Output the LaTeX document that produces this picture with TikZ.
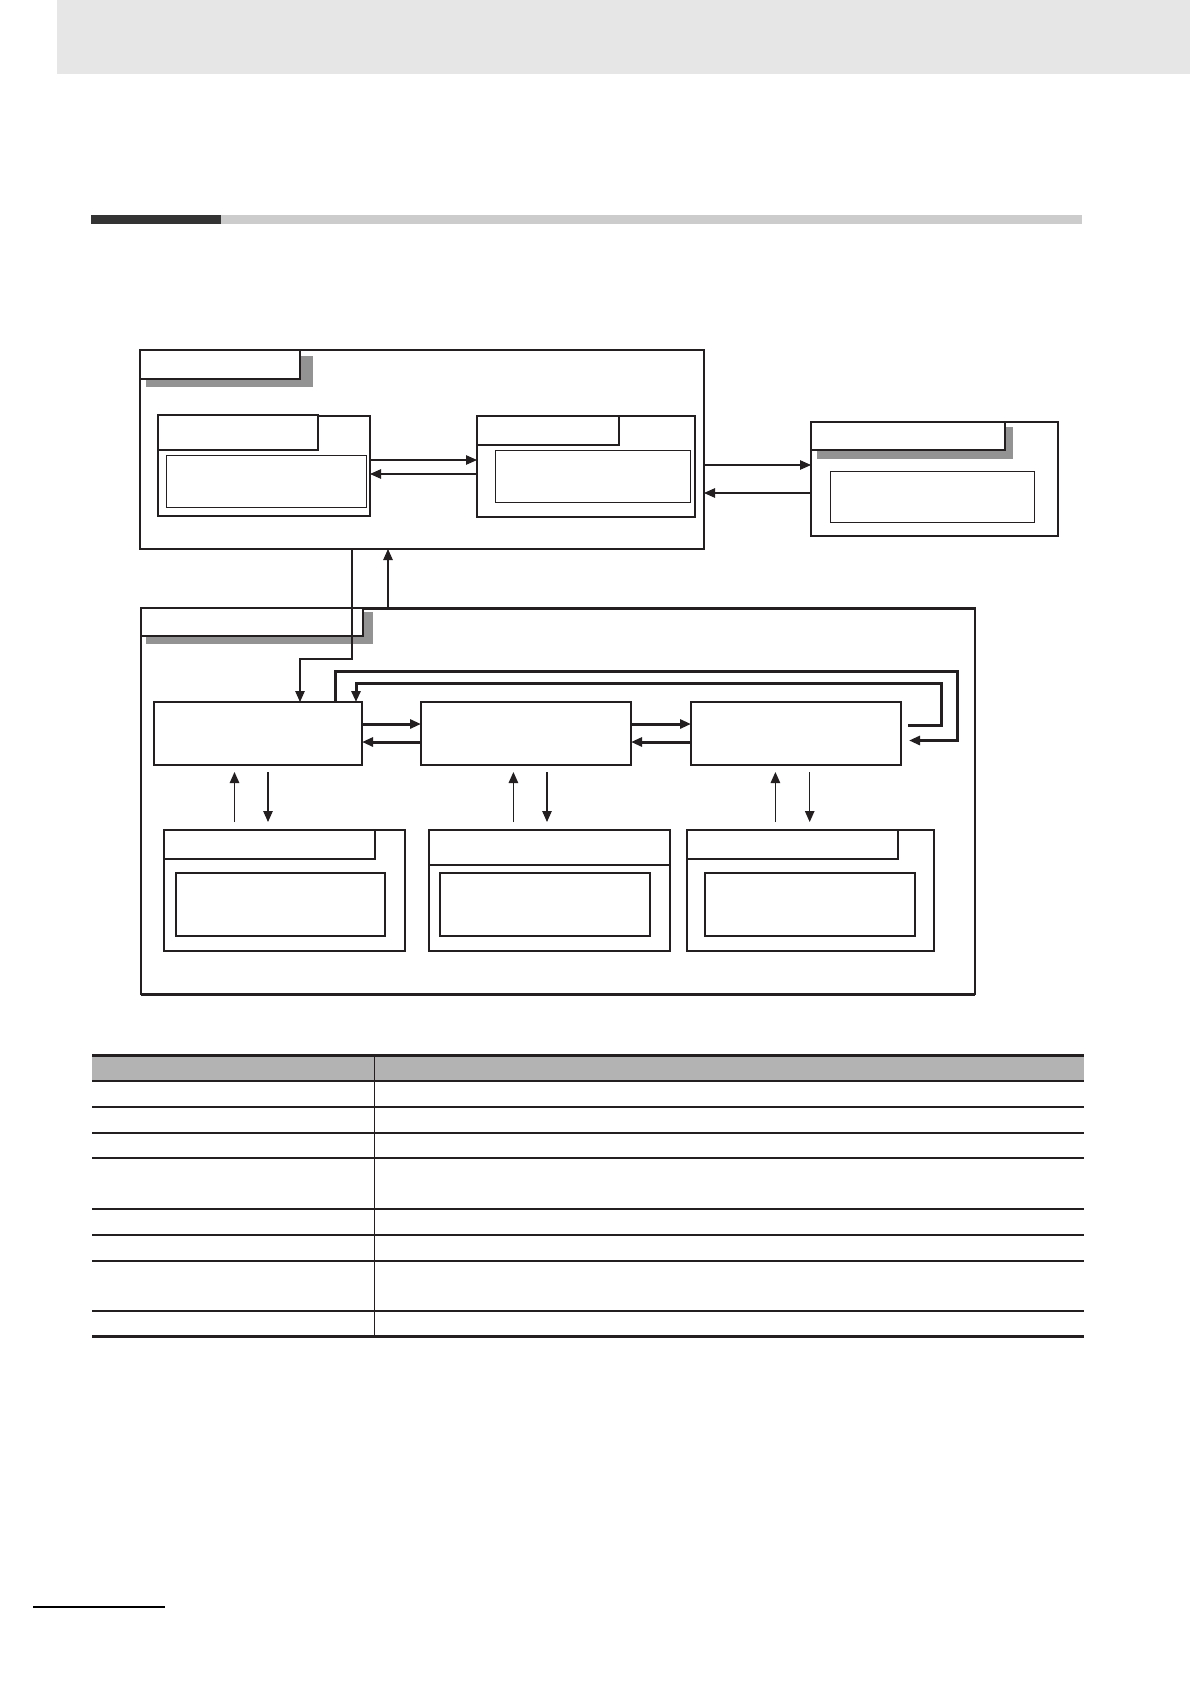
\documentclass[tikz,border=0pt]{standalone}
\usetikzlibrary{arrows.meta,calc}
\definecolor{lc}{HTML}{231F20}
\definecolor{shd}{HTML}{939393}
\definecolor{band}{HTML}{E6E6E6}
\definecolor{bardark}{HTML}{333333}
\definecolor{barlight}{HTML}{CCCCCC}
\definecolor{thead}{HTML}{B3B3B3}
\tikzset{
 bx/.style={draw=lc,inner sep=0pt,outer sep=0pt,anchor=north west,fill=white,line width=#1},
 bx/.default=2pt,
 sz/.style n args={2}{minimum width=#1pt,minimum height=#2pt},
 shadowbox/.style={fill=shd,draw=none,inner sep=0pt,outer sep=0pt,anchor=north west},
 thinarrow/.style={draw=lc,line width=1.1pt,-{Triangle[length=11pt,width=9.5pt]}},
 thickarrow/.style={draw=lc,line width=3pt,-{Triangle[length=11pt,width=9pt]}},
}
\begin{document}
\begin{tikzpicture}[x=1pt,y=-1pt]
\useasboundingbox (0,0) rectangle (1190,1684);
% page decoration
\fill[band] (57,0) rectangle (1190,73.5);
\fill[bardark] (91,215) rectangle (221,224);
\fill[barlight] (221,215) rectangle (1082,224);

% top system
\node[bx,sz={564}{199}] (T) at (140,350) {};
\node[shadowbox,sz={167}{31}] (Tsh) at (146,356) {};
\node[bx,sz={160}{29}] (Ttab) at (140,350) {};

\node[bx,sz={212}{100}] (A) at (158,416) {};
\node[bx=1.8pt,sz={160}{35}] (Atab) at (158,415) {};
\node[bx=1pt,sz={200}{52}] (Ain) at (166,455) {};

\node[bx,sz={218}{101}] (B) at (477,416) {};
\node[bx=1.8pt,sz={142}{29}] (Btab) at (477,416) {};
\node[bx=1pt,sz={195}{52}] (Bin) at (495,450) {};

\node[bx,sz={247}{114}] (C) at (811,422) {};
\node[shadowbox,sz={196}{32}] (Csh) at (817,427) {};
\node[bx,sz={194}{28}] (Ctab) at (811,422) {};
\node[bx=1pt,sz={204}{51}] (Cin) at (830,471) {};

\coordinate (yab1) at (0,460);
\coordinate (yab2) at (0,474);
\draw[thinarrow] (A.east |- yab1) -- (B.west |- yab1);
\draw[thinarrow] (B.west |- yab2) -- (A.east |- yab2);
\coordinate (ytc1) at (0,465);
\coordinate (ytc2) at (0,493);
\draw[thinarrow] (T.east |- ytc1) -- (C.west |- ytc1);
\draw[thinarrow] (C.west |- ytc2) -- (T.east |- ytc2);

% main system
\node[bx=1.2pt,sz={834}{386}] (M) at (141,608) {};
\draw[lc,line width=3pt] (M.north west) -- (M.north east);
\draw[lc,line width=3pt] (M.south west) -- (M.south east);
\node[shadowbox,sz={227}{32}] (Msh) at (146,612) {};
\node[bx,sz={222}{28}] (Mtab) at (141,608) {};

\node[bx=1.2pt,sz={208}{63}] (D) at (154,702) {};
\node[bx=1.2pt,sz={210}{63}] (E) at (421,702) {};
\node[bx=1.2pt,sz={210}{63}] (F) at (691,702) {};

\coordinate (p1) at (352,659);
\coordinate (p2) at (300,659);
\draw[thinarrow] (T.south -| p1) -- (p1) -- (p2) -- (D.north -| p2);
\coordinate (q1) at (388,0);
\draw[thinarrow] (M.north -| q1) -- (T.south -| q1);

\coordinate (yr) at (0,724);
\coordinate (yl) at (0,742);
\draw[thickarrow] (D.east |- yr) -- (E.west |- yr);
\draw[thickarrow] (E.west |- yl) -- (D.east |- yl);
\draw[thickarrow] (E.east |- yr) -- (F.west |- yr);
\draw[thickarrow] (F.west |- yl) -- (E.east |- yl);

\coordinate (o1) at (335,671.5);
\coordinate (o2) at (957,671.5);
\coordinate (o3) at (957,740.5);
\coordinate (o4) at (909,740.5);
\draw[thickarrow] (D.north -| o1) -- (o1) -- (o2) -- (o3) -- (o4);
\coordinate (i0) at (908,725);
\coordinate (i1) at (941,725);
\coordinate (i2) at (941,683);
\coordinate (i3) at (356,683);
\draw[thickarrow] (i0) -- (i1) -- (i2) -- (i3) -- (D.north -| i3);

\node[bx=2.2pt,sz={241}{121}] (G) at (164,830) {};
\node[bx=1.5pt,sz={211}{29}] (Gtab) at (164,830) {};
\node[bx=1.2pt,sz={209}{63}] (Gin) at (176,873) {};

\node[bx=2.2pt,sz={241}{121}] (H) at (429,830) {};
\node[bx=1.2pt,sz={241}{35}] (Htab) at (429,830) {};
\node[bx=1.2pt,sz={210}{63}] (Hin) at (440,873) {};

\node[bx=2.2pt,sz={247}{121}] (I) at (687,830) {};
\node[bx=1.5pt,sz={211}{29}] (Itab) at (687,830) {};
\node[bx=1.2pt,sz={210}{63}] (Iin) at (705,873) {};

\coordinate (g1) at (234.5,0);
\coordinate (g2) at (268,0);
\coordinate (h1) at (513.4,0);
\coordinate (h2) at (547,0);
\coordinate (k1) at (775.4,0);
\coordinate (k2) at (809.7,0);
\draw[thinarrow,shorten <=8pt,shorten >=7pt] (G.north -| g1) -- (D.south -| g1);
\draw[thinarrow,shorten <=7pt,shorten >=8pt] (D.south -| g2) -- (G.north -| g2);
\draw[thinarrow,shorten <=8pt,shorten >=7pt] (H.north -| h1) -- (E.south -| h1);
\draw[thinarrow,shorten <=7pt,shorten >=8pt] (E.south -| h2) -- (H.north -| h2);
\draw[thinarrow,shorten <=8pt,shorten >=7pt] (I.north -| k1) -- (F.south -| k1);
\draw[thinarrow,shorten <=7pt,shorten >=8pt] (F.south -| k2) -- (I.north -| k2);

% table
\fill[thead] (92,1055) rectangle (1084,1081);
\draw[lc,line width=1pt] (374,1055) -- (374,1336);
\draw[lc,line width=3pt] (92,1055) -- (1084,1055);
\draw[lc,line width=2.5pt] (92,1081) -- (1084,1081);
\foreach \yy in {1107,1133,1158,1209,1235,1261,1311}
  \draw[lc,line width=1.3pt] (92,\yy) -- (1084,\yy);
\draw[lc,line width=3pt] (92,1336) -- (1084,1336);

% footer
\draw[black,line width=2.5pt] (33,1607) -- (165,1607);
\end{tikzpicture}
\end{document}
